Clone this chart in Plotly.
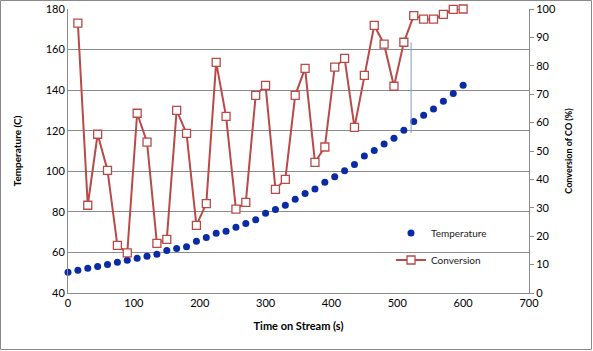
import plotly.graph_objects as go

# ---- data ----
time_temp = [i * 15 for i in range(41)]  # 0..600 s
temperature = [50.2, 51.2, 52.2, 53.1, 54.0, 55.1, 56.1, 57.1, 58.1, 59.1,
               61.0, 61.9, 62.8, 65.5, 67.3, 69.4, 70.4, 72.4, 74.3, 76.1,
               79.3, 81.2, 83.2, 86.2, 89.1, 91.3, 94.6, 97.3, 100.3, 103.4,
               107.5, 110.3, 113.4, 116.3, 120.2, 124.6, 127.6, 130.7, 134.5,
               138.4, 142.4]

time_conv = [i * 15 for i in range(1, 41)]  # 15..600 s
conversion = [95.0, 30.9, 55.9, 43.2, 16.8, 14.1, 63.3, 53.1, 17.5, 18.9,
              64.3, 56.2, 23.8, 31.5, 81.2, 62.2, 29.5, 31.9, 69.6, 73.1,
              36.5, 40.0, 69.6, 79.1, 46.0, 51.4, 79.5, 82.6, 58.3, 76.6,
              94.2, 87.6, 72.8, 88.3, 97.7, 96.4, 96.4, 98.1, 99.9, 100.0]

# stray vertical marker line seen in the chart (conversion axis units)
marker_line_x = [521, 521]
marker_line_y = [88.2, 56.3]

FONT = "Lato"
GRID = "#8c8c8c"

fig = go.Figure()

fig.add_trace(go.Scatter(
    x=time_temp, y=temperature, mode="markers", name="Temperature",
    marker=dict(symbol="circle", size=7, color="#0a2ba3"),
    legend="legend", yaxis="y", cliponaxis=False))

fig.add_trace(go.Scatter(
    x=time_conv, y=conversion, mode="lines+markers", name="Conversion",
    line=dict(color="#b94a48", width=2),
    marker=dict(symbol="square", size=8, color="white",
                line=dict(color="#b94a48", width=1.3)),
    legend="legend2", yaxis="y2", cliponaxis=False))

fig.add_trace(go.Scatter(
    x=marker_line_x, y=marker_line_y, mode="lines", showlegend=False,
    line=dict(color="#7a9bcc", width=1), yaxis="y2", hoverinfo="skip"))

W, H = 593, 351
L, R, T, B = 68, 64, 9, 58
pw = W - L - R
ph = H - T - B

fig.update_layout(
    width=W, height=H,
    margin=dict(l=L, r=R, t=T, b=B, autoexpand=False),
    paper_bgcolor="white", plot_bgcolor="white",
    font=dict(family=FONT, size=11, color="#000000"),
    xaxis=dict(range=[0, 700], dtick=100, showgrid=False, zeroline=False,
               showline=True, linecolor=GRID, linewidth=1, ticks="",
               tickfont=dict(size=11),
               title=dict(text="<b>Time on Stream (s)</b>", font=dict(size=11),
                          standoff=14)),
    yaxis=dict(range=[40, 180], dtick=20, showgrid=True, gridcolor=GRID,
               gridwidth=1, zeroline=False, showline=True, linecolor=GRID,
               linewidth=1, ticks="", tickfont=dict(size=11),
               title=dict(text="<b>Temperature (C)</b>", font=dict(size=10),
                          standoff=22)),
    yaxis2=dict(range=[0, 100], dtick=10, overlaying="y", side="right",
                showgrid=False, zeroline=False, showline=True, linecolor=GRID,
                linewidth=1, ticks="outside", ticklen=4, tickcolor=GRID,
                tickfont=dict(size=11),
                title=dict(text="<b>Conversion of CO (%)</b>", font=dict(size=9),
                           standoff=10)),
    legend=dict(x=(391 - L) / pw, y=(293 - 233) / ph, xanchor="left",
                yanchor="middle", bgcolor="rgba(0,0,0,0)",
                font=dict(size=10, color="#222222"), itemwidth=30),
    legend2=dict(x=(391 - L) / pw, y=(293 - 260) / ph, xanchor="left",
                 yanchor="middle", bgcolor="rgba(0,0,0,0)",
                 font=dict(size=10, color="#222222"), itemwidth=30),
    shapes=[dict(type="rect", xref="paper", yref="paper",
                 x0=-(L - 0.5) / pw, x1=1 + (R - 1.5) / pw,
                 y0=-(B - 1.5) / ph, y1=1 + (T - 0.5) / ph,
                 line=dict(color="#8a8a8a", width=1), layer="below")],
)

fig.write_html("out.html")
